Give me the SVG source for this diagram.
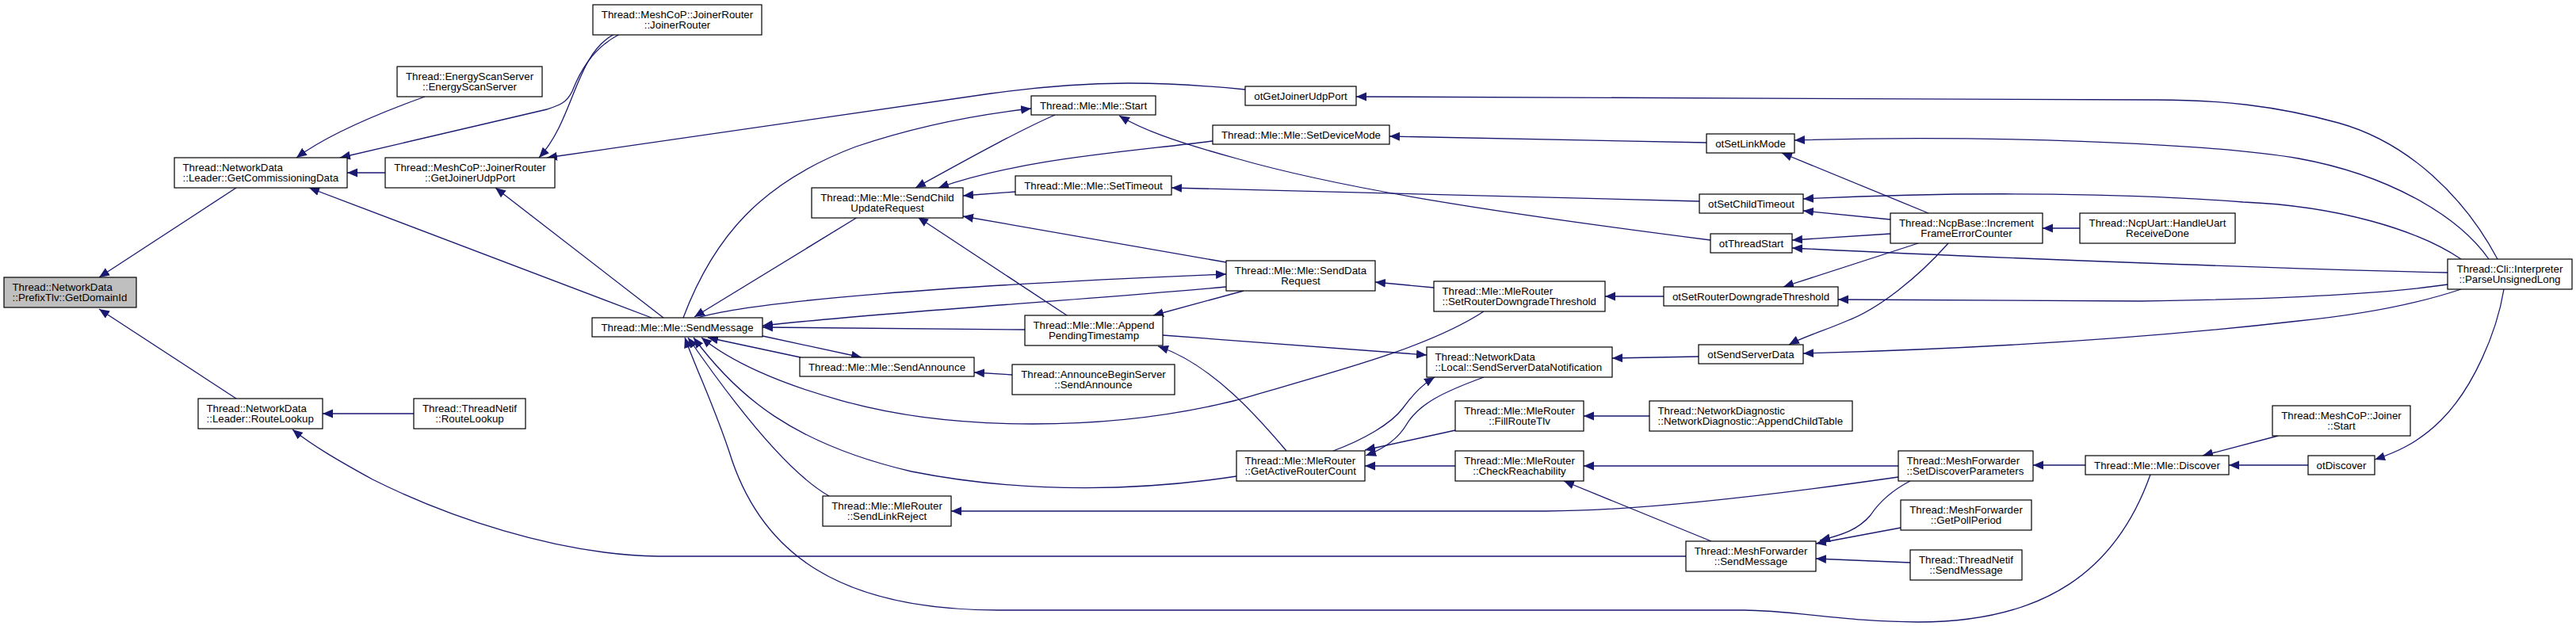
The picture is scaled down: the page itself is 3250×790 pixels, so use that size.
<svg xmlns="http://www.w3.org/2000/svg" width="3250" height="790" viewBox="0 0 3250 790">
<style>
.n rect{fill:#fff;stroke:#000;stroke-width:1.2}
.n.g rect{fill:#bfbfbf}
.n text{font-family:"Liberation Sans",Arial,Helvetica,sans-serif;font-size:13.3px;fill:#000}
.n .c{text-anchor:middle}
#edges path{fill:none;stroke:#191970;stroke-width:1.3;marker-end:url(#a)}
</style>
<defs>
<marker id="a" markerUnits="userSpaceOnUse" markerWidth="14" markerHeight="12" refX="13" refY="5.5" orient="auto"><path d="M0,0 L13,5.5 L0,11 z" fill="#191970"/></marker>
</defs>
<rect width="3250" height="790" fill="#fff"/>
<g id="edges">
<path d="M298,237 L125,350"/>
<path d="M298,503 L125,390"/>
<path d="M522,522 L407,522"/>
<path d="M536,122 C500,135 420,165 374,199"/>
<path d="M782,43 C745,62 730,95 722,115 C715,130 705,133 690,138 L429,199"/>
<path d="M486,218 L438,218"/>
<path d="M822,401 L390,237"/>
<path d="M775,43 C725,70 725,150 680,199"/>
<path d="M1571,113 C1470,103 1380,100 1250,118 C1100,140 900,170 690,199"/>
<path d="M837,401 L625,237"/>
<path d="M1082,274 L876,400"/>
<path d="M862,401 C900,300 960,230 1080,185 C1160,158 1230,145 1301,137"/>
<path d="M1331,145 C1290,163 1240,190 1155,237"/>
<path d="M1530,178 C1420,192 1290,200 1184,237"/>
<path d="M1281,242 L1215,247"/>
<path d="M1547,331 L1215,273"/>
<path d="M1346,398 L1158,274"/>
<path d="M2158,303 C1900,270 1700,240 1560,200 C1480,178 1440,163 1412,146"/>
<path d="M2153,180 L1753,172"/>
<path d="M2144,254 L1478,237"/>
<path d="M880,401 C950,380 1200,360 1547,346"/>
<path d="M1547,362 C1350,380 1100,395 962,411"/>
<path d="M1293,416 L962,413"/>
<path d="M1569,367 L1455,398"/>
<path d="M962,424 L1087,451"/>
<path d="M1010,451 L893,426"/>
<path d="M1277,473 L1229,470"/>
<path d="M1872,393 C1800,440 1680,470 1560,505 C1400,545 1200,545 1060,505 C980,483 920,455 885,426"/>
<path d="M1809,363 L1735,356"/>
<path d="M2099,374 L2025,374"/>
<path d="M1560,601 C1450,618 1300,625 1150,595 C1000,560 930,500 875,426"/>
<path d="M1046,626 C1000,600 940,530 868,426"/>
<path d="M2713,599 C2670,720 2580,785 2420,785 C2330,785 2260,770 2200,770 L1260,770 C1060,770 960,700 920,570 C900,510 880,470 864,426"/>
<path d="M2127,702 L830,702 C700,700 560,650 470,605 C430,583 395,563 369,542"/>
<path d="M2395,602 C2200,630 2050,645 1950,645 L1200,645"/>
<path d="M1872,476 C1820,495 1790,510 1775,535 C1765,552 1750,565 1723,575"/>
<path d="M1682,569 C1720,555 1755,535 1770,515 C1785,495 1795,485 1810,476"/>
<path d="M1623,569 C1590,530 1530,460 1461,437"/>
<path d="M1467,423 L1800,448"/>
<path d="M2143,450 L2034,452"/>
<path d="M1836,543 L1722,568"/>
<path d="M2081,525 L1998,525"/>
<path d="M1836,588 L1722,588"/>
<path d="M2395,588 L1998,588"/>
<path d="M2159,683 L1973,607"/>
<path d="M2410,607 C2385,620 2370,635 2360,650 C2345,668 2325,675 2296,682"/>
<path d="M2398,666 L2291,686"/>
<path d="M2410,710 L2291,705"/>
<path d="M2631,587 L2565,587"/>
<path d="M2874,550 L2779,575"/>
<path d="M2912,587 L2812,587"/>
<path d="M3159,365 C3150,420 3120,490 3080,530 C3050,560 3020,572 2996,580"/>
<path d="M2624,288 L2577,288"/>
<path d="M2433,269 L2248,193"/>
<path d="M3140,327 C3100,270 3010,220 2900,200 C2780,180 2500,170 2264,177"/>
<path d="M3151,327 C3110,250 3040,180 2950,155 C2870,133 2800,126 2720,126 L1711,122"/>
<path d="M3105,327 C3050,290 2950,260 2830,255 C2700,245 2500,240 2275,251"/>
<path d="M2385,277 L2275,266"/>
<path d="M2385,295 L2261,303"/>
<path d="M3088,344 C2900,340 2500,325 2261,313"/>
<path d="M2420,307 L2250,362"/>
<path d="M3088,359 C3000,372 2850,378 2700,380 L2319,378"/>
<path d="M2458,307 C2420,350 2370,390 2330,405 C2300,418 2275,425 2257,435"/>
<path d="M3105,365 C3060,380 3000,395 2900,405 C2700,428 2500,440 2275,446"/>
</g>
<g id="n1" class="n g"><rect x="5" y="350" width="167" height="38"/><text x="15.5" y="366.5">Thread::NetworkData</text><text x="15.5" y="380">::PrefixTlv::GetDomainId</text></g>
<g id="n2" class="n"><rect x="220" y="199" width="218" height="38"/><text x="230.5" y="215.5">Thread::NetworkData</text><text x="230.5" y="229">::Leader::GetCommissioningData</text></g>
<g id="n3" class="n"><rect x="250" y="503" width="157" height="38"/><text x="260.5" y="519.5">Thread::NetworkData</text><text x="260.5" y="533">::Leader::RouteLookup</text></g>
<g id="n4" class="n"><rect x="501" y="84" width="183" height="38"/><text class="c" x="592.5" y="100.5">Thread::EnergyScanServer</text><text class="c" x="592.5" y="114">::EnergyScanServer</text></g>
<g id="n5" class="n"><rect x="486" y="199" width="214" height="38"/><text class="c" x="593" y="215.5">Thread::MeshCoP::JoinerRouter</text><text class="c" x="593" y="229">::GetJoinerUdpPort</text></g>
<g id="n6" class="n"><rect x="522" y="503" width="141" height="38"/><text class="c" x="592.5" y="519.5">Thread::ThreadNetif</text><text class="c" x="592.5" y="533">::RouteLookup</text></g>
<g id="n7" class="n"><rect x="748" y="6" width="213" height="38"/><text class="c" x="854.5" y="22.5">Thread::MeshCoP::JoinerRouter</text><text class="c" x="854.5" y="36">::JoinerRouter</text></g>
<g id="n8" class="n"><rect x="747" y="401" width="215" height="24"/><text class="c" x="854.5" y="417.5">Thread::Mle::Mle::SendMessage</text></g>
<g id="n9" class="n"><rect x="1024" y="237" width="191" height="38"/><text class="c" x="1119.5" y="253.5">Thread::Mle::Mle::SendChild</text><text class="c" x="1119.5" y="267">UpdateRequest</text></g>
<g id="n10" class="n"><rect x="1009" y="451" width="220" height="24"/><text class="c" x="1119" y="467.5">Thread::Mle::Mle::SendAnnounce</text></g>
<g id="n11" class="n"><rect x="1038" y="626" width="162" height="38"/><text class="c" x="1119" y="642.5">Thread::Mle::MleRouter</text><text class="c" x="1119" y="656">::SendLinkReject</text></g>
<g id="n12" class="n"><rect x="1301" y="121" width="157" height="24"/><text class="c" x="1379.5" y="137.5">Thread::Mle::Mle::Start</text></g>
<g id="n13" class="n"><rect x="1281" y="222" width="197" height="24"/><text class="c" x="1379.5" y="238.5">Thread::Mle::Mle::SetTimeout</text></g>
<g id="n14" class="n"><rect x="1293" y="398" width="174" height="38"/><text class="c" x="1380" y="414.5">Thread::Mle::Mle::Append</text><text class="c" x="1380" y="428">PendingTimestamp</text></g>
<g id="n15" class="n"><rect x="1277" y="460" width="205" height="38"/><text class="c" x="1379.5" y="476.5">Thread::AnnounceBeginServer</text><text class="c" x="1379.5" y="490">::SendAnnounce</text></g>
<g id="n16" class="n"><rect x="1571" y="109" width="140" height="24"/><text class="c" x="1641" y="125.5">otGetJoinerUdpPort</text></g>
<g id="n17" class="n"><rect x="1530" y="158" width="223" height="24"/><text class="c" x="1641.5" y="174.5">Thread::Mle::Mle::SetDeviceMode</text></g>
<g id="n18" class="n"><rect x="1547" y="329" width="188" height="38"/><text class="c" x="1641" y="345.5">Thread::Mle::Mle::SendData</text><text class="c" x="1641" y="359">Request</text></g>
<g id="n19" class="n"><rect x="1560" y="569" width="162" height="38"/><text x="1570.5" y="585.5">Thread::Mle::MleRouter</text><text x="1570.5" y="599">::GetActiveRouterCount</text></g>
<g id="n20" class="n"><rect x="1809" y="355" width="216" height="38"/><text x="1819.5" y="371.5">Thread::Mle::MleRouter</text><text x="1819.5" y="385">::SetRouterDowngradeThreshold</text></g>
<g id="n21" class="n"><rect x="1800" y="438" width="234" height="38"/><text x="1810.5" y="454.5">Thread::NetworkData</text><text x="1810.5" y="468">::Local::SendServerDataNotification</text></g>
<g id="n22" class="n"><rect x="1836" y="506" width="162" height="38"/><text class="c" x="1917" y="522.5">Thread::Mle::MleRouter</text><text class="c" x="1917" y="536">::FillRouteTlv</text></g>
<g id="n23" class="n"><rect x="1836" y="569" width="162" height="38"/><text class="c" x="1917" y="585.5">Thread::Mle::MleRouter</text><text class="c" x="1917" y="599">::CheckReachability</text></g>
<g id="n24" class="n"><rect x="2153" y="169" width="111" height="24"/><text class="c" x="2208.5" y="185.5">otSetLinkMode</text></g>
<g id="n25" class="n"><rect x="2144" y="245" width="131" height="24"/><text class="c" x="2209.5" y="261.5">otSetChildTimeout</text></g>
<g id="n26" class="n"><rect x="2158" y="295" width="103" height="24"/><text class="c" x="2209.5" y="311.5">otThreadStart</text></g>
<g id="n27" class="n"><rect x="2099" y="362" width="220" height="24"/><text class="c" x="2209" y="378.5">otSetRouterDowngradeThreshold</text></g>
<g id="n28" class="n"><rect x="2143" y="435" width="132" height="24"/><text class="c" x="2209" y="451.5">otSendServerData</text></g>
<g id="n29" class="n"><rect x="2081" y="506" width="256" height="38"/><text x="2091.5" y="522.5">Thread::NetworkDiagnostic</text><text x="2091.5" y="536">::NetworkDiagnostic::AppendChildTable</text></g>
<g id="n30" class="n"><rect x="2127" y="683" width="164" height="38"/><text class="c" x="2209" y="699.5">Thread::MeshForwarder</text><text class="c" x="2209" y="713">::SendMessage</text></g>
<g id="n31" class="n"><rect x="2385" y="269" width="192" height="38"/><text class="c" x="2481" y="285.5">Thread::NcpBase::Increment</text><text class="c" x="2481" y="299">FrameErrorCounter</text></g>
<g id="n32" class="n"><rect x="2395" y="569" width="170" height="38"/><text x="2405.5" y="585.5">Thread::MeshForwarder</text><text x="2405.5" y="599">::SetDiscoverParameters</text></g>
<g id="n33" class="n"><rect x="2398" y="631" width="165" height="38"/><text class="c" x="2480.5" y="647.5">Thread::MeshForwarder</text><text class="c" x="2480.5" y="661">::GetPollPeriod</text></g>
<g id="n34" class="n"><rect x="2410" y="694" width="141" height="38"/><text class="c" x="2480.5" y="710.5">Thread::ThreadNetif</text><text class="c" x="2480.5" y="724">::SendMessage</text></g>
<g id="n35" class="n"><rect x="2624" y="269" width="196" height="38"/><text class="c" x="2722" y="285.5">Thread::NcpUart::HandleUart</text><text class="c" x="2722" y="299">ReceiveDone</text></g>
<g id="n36" class="n"><rect x="2631" y="575" width="181" height="24"/><text class="c" x="2721.5" y="591.5">Thread::Mle::Mle::Discover</text></g>
<g id="n37" class="n"><rect x="2867" y="512" width="174" height="38"/><text class="c" x="2954" y="528.5">Thread::MeshCoP::Joiner</text><text class="c" x="2954" y="542">::Start</text></g>
<g id="n38" class="n"><rect x="2912" y="575" width="84" height="24"/><text class="c" x="2954" y="591.5">otDiscover</text></g>
<g id="n39" class="n"><rect x="3088" y="327" width="157" height="38"/><text class="c" x="3166.5" y="343.5">Thread::Cli::Interpreter</text><text class="c" x="3166.5" y="357">::ParseUnsignedLong</text></g>
</svg>
